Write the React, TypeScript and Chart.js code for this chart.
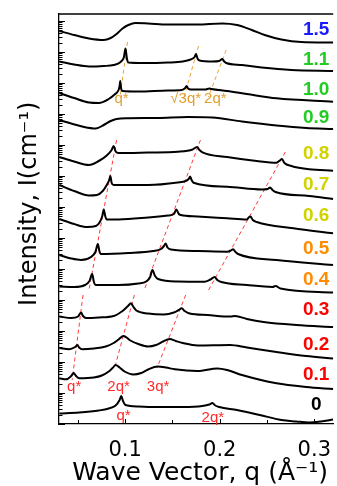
import React, { useEffect, useRef } from 'react';
import { Chart, registerables } from 'chart.js';

Chart.register(...registerables);

type Pt = [number, number];

// Sample labels (right side), colours and their vertical positions (offset units)
const sampleNames = ['0', '0.1', '0.2', '0.3', '0.4', '0.5', '0.6', '0.7', '0.8', '0.9', '1.0', '1.1', '1.5'];
const sampleColors = ['#000000', '#FF0000', '#FF0000', '#FF0000', '#FF8C00', '#FF8C00', '#D2D200', '#D2D200', '#D2D200', '#22CC22', '#22CC22', '#22CC22', '#1A1AFF'];
const sampleLabelY = [1.9, 4.9, 7.9, 11.4, 14.4, 17.5, 20.8, 23.9, 27.0, 30.6, 33.4, 36.4, 39.4];
const sampleLabelQ = 0.302;

// Offset scattering curves: [q (Å^-1), offset log-intensity]
const curve00: Pt[] = [[0.0304, 1.05], [0.0513, 1.15], [0.0721, 1.35], [0.0826, 1.55], [0.0899, 1.85], [0.0941, 2.4], [0.0958, 2.8], [0.0977, 2.3], [0.1003, 1.9], [0.1139, 1.75], [0.1348, 1.7], [0.1609, 1.7], [0.1817, 1.8], [0.189, 1.95], [0.1922, 2.1], [0.1953, 1.85], [0.1995, 1.7], [0.2183, 1.4], [0.2423, 0.9], [0.2652, 0.4], [0.2809, 0.25], [0.2945, 0.15], [0.307, 0.25], [0.32, 0.45]];
const curve01: Pt[] = [[0.0304, 4.57], [0.0377, 4.47], [0.0429, 4.8], [0.0455, 5.1], [0.0481, 4.8], [0.0513, 4.57], [0.0669, 4.65], [0.0753, 4.85], [0.0826, 5.25], [0.0867, 5.6], [0.0899, 5.9], [0.0941, 5.65], [0.0993, 5.25], [0.1087, 4.95], [0.117, 5.1], [0.1243, 5.45], [0.1342, 5.75], [0.1431, 5.65], [0.1525, 5.47], [0.1765, 5.3], [0.1974, 5.55], [0.2078, 5.4], [0.2235, 4.9], [0.26, 4.07], [0.2913, 3.7], [0.32, 3.5]];
const curve02: Pt[] = [[0.0304, 7.6], [0.0408, 7.47], [0.0471, 7.7], [0.0495, 7.9], [0.0513, 7.65], [0.0547, 7.47], [0.0669, 7.55], [0.0794, 7.75], [0.0878, 8.1], [0.093, 8.45], [0.0982, 8.8], [0.1014, 8.65], [0.1055, 8.35], [0.1139, 8.0], [0.1243, 7.75], [0.1327, 7.9], [0.14, 8.25], [0.147, 8.5], [0.1535, 8.3], [0.1609, 8.1], [0.1765, 7.85], [0.211, 7.9], [0.2287, 7.65], [0.26, 7.2], [0.2913, 6.8], [0.32, 6.55]];
const curve03: Pt[] = [[0.0304, 10.75], [0.0429, 10.6], [0.0502, 10.75], [0.0533, 11.15], [0.0554, 10.8], [0.0586, 10.6], [0.0721, 10.65], [0.0878, 10.8], [0.0972, 11.3], [0.1024, 11.75], [0.1063, 12.07], [0.1087, 11.7], [0.1118, 11.35], [0.1243, 11.05], [0.141, 10.95], [0.1515, 11.15], [0.1567, 11.4], [0.1598, 11.57], [0.1629, 11.3], [0.1682, 11.05], [0.187, 10.9], [0.211, 10.75], [0.2162, 10.8], [0.2287, 10.5], [0.2464, 10.2], [0.2809, 9.9], [0.32, 9.7]];
const curve04: Pt[] = [[0.0304, 13.75], [0.046, 13.7], [0.0575, 13.9], [0.0622, 14.3], [0.0651, 15.0], [0.0669, 14.2], [0.069, 13.9], [0.093, 13.9], [0.1139, 14.05], [0.1222, 14.25], [0.1264, 14.7], [0.1288, 15.4], [0.1316, 14.8], [0.1348, 14.5], [0.1556, 14.25], [0.1838, 14.23], [0.1901, 14.45], [0.1946, 14.7], [0.1974, 14.4], [0.2016, 14.2], [0.2287, 13.9], [0.2558, 13.7], [0.259, 13.8], [0.2642, 13.55], [0.32, 13.15]];
const curve05: Pt[] = [[0.0304, 16.9], [0.0429, 16.55], [0.0533, 16.4], [0.0638, 16.7], [0.0685, 17.2], [0.0711, 18.0], [0.0727, 17.3], [0.0742, 17.0], [0.1034, 17.1], [0.1295, 17.3], [0.1379, 17.5], [0.141, 17.8], [0.1428, 18.05], [0.1447, 17.65], [0.1483, 17.45], [0.1765, 17.3], [0.2078, 17.23], [0.212, 17.37], [0.2141, 17.47], [0.2167, 17.2], [0.2193, 17.0], [0.26, 16.4], [0.32, 15.9]];
const curve06: Pt[] = [[0.0304, 20.5], [0.046, 20.0], [0.0596, 19.7], [0.069, 19.8], [0.0732, 20.2], [0.0758, 20.8], [0.0773, 21.45], [0.0789, 20.8], [0.0805, 20.45], [0.093, 20.45], [0.1243, 20.65], [0.1452, 20.85], [0.1515, 21.0], [0.1541, 21.45], [0.1567, 21.0], [0.1588, 20.9], [0.1765, 20.75], [0.2078, 20.57], [0.2287, 20.45], [0.2311, 20.7], [0.2324, 20.75], [0.235, 20.4], [0.2391, 20.2], [0.2778, 19.57], [0.32, 19.07]];
const curve07: Pt[] = [[0.0304, 23.9], [0.046, 23.3], [0.0617, 22.85], [0.07, 22.9], [0.0763, 23.3], [0.0805, 23.9], [0.0831, 24.4], [0.0843, 24.8], [0.0857, 24.1], [0.0878, 23.9], [0.1243, 23.9], [0.1556, 24.15], [0.164, 24.3], [0.1671, 24.5], [0.1687, 24.75], [0.1702, 24.4], [0.1723, 24.13], [0.2078, 23.73], [0.2444, 23.45], [0.2506, 23.5], [0.2532, 23.65], [0.2558, 23.4], [0.259, 23.2], [0.2945, 22.8], [0.32, 22.5]];
const curve08: Pt[] = [[0.0304, 26.7], [0.046, 26.25], [0.0617, 25.9], [0.0721, 26.3], [0.0805, 26.85], [0.0857, 27.4], [0.0878, 27.8], [0.0899, 27.25], [0.093, 27.1], [0.1243, 27.15], [0.1556, 27.23], [0.1713, 27.45], [0.176, 27.7], [0.1786, 27.4], [0.1817, 27.17], [0.2078, 26.7], [0.2391, 26.3], [0.26, 26.13], [0.2642, 26.4], [0.2658, 26.5], [0.2684, 26.1], [0.2757, 25.8], [0.2945, 25.47], [0.32, 25.33]];
const curve09: Pt[] = [[0.0304, 30.4], [0.0429, 30.05], [0.0565, 29.7], [0.069, 29.55], [0.0773, 29.9], [0.0847, 30.3], [0.0909, 30.5], [0.1034, 30.57], [0.1348, 30.6], [0.1661, 30.7], [0.1922, 30.65], [0.2235, 30.25], [0.26, 29.85], [0.2913, 29.6], [0.32, 29.5]];
const curve10: Pt[] = [[0.0304, 33.1], [0.046, 32.6], [0.0617, 32.15], [0.0721, 32.1], [0.0826, 32.5], [0.0888, 32.95], [0.093, 33.4], [0.0941, 33.8], [0.0948, 34.3], [0.0956, 33.6], [0.0972, 33.3], [0.1139, 33.25], [0.1452, 33.35], [0.1598, 33.4], [0.1635, 33.6], [0.165, 33.8], [0.1666, 33.55], [0.1692, 33.45], [0.1849, 33.45], [0.189, 33.55], [0.1911, 33.5], [0.2078, 33.3], [0.2287, 33.0], [0.26, 32.57], [0.32, 32.23]];
const curve11: Pt[] = [[0.0304, 36.25], [0.046, 35.95], [0.0617, 35.75], [0.0773, 35.8], [0.0878, 35.9], [0.0951, 36.2], [0.0987, 36.7], [0.1003, 37.55], [0.1019, 36.5], [0.1034, 36.15], [0.1191, 36.1], [0.1452, 36.15], [0.1609, 36.25], [0.1692, 36.45], [0.1734, 36.7], [0.1749, 37.0], [0.1765, 36.55], [0.1786, 36.35], [0.1922, 36.25], [0.1995, 36.3], [0.2026, 36.5], [0.2047, 36.25], [0.2068, 36.1], [0.2235, 35.9], [0.2444, 35.65], [0.2757, 35.4], [0.32, 35.3]];
const curve15: Pt[] = [[0.0304, 39.3], [0.046, 38.9], [0.0617, 38.55], [0.0773, 38.4], [0.0847, 38.6], [0.0909, 39.0], [0.0972, 39.55], [0.1034, 39.9], [0.1108, 40.1], [0.1243, 40.05], [0.1452, 39.95], [0.1765, 39.95], [0.2026, 40.05], [0.2183, 39.9], [0.2339, 39.4], [0.2475, 38.9], [0.2652, 38.45], [0.2861, 38.2], [0.32, 38.15]];

const curves: Pt[][] = [curve00, curve01, curve02, curve03, curve04, curve05, curve06, curve07, curve08, curve09, curve10, curve11, curve15];

// Dashed guide lines through peak positions
const orangeGuides: Pt[][] = [
  [[0.1024, 38.2], [0.0946, 32.7]],
  [[0.1776, 37.8], [0.1619, 32.6]],
  [[0.2068, 37.4], [0.188, 32.7]],
];
const redGuides: Pt[][] = [
  [[0.0909, 28.4], [0.0617, 13.4]],
  [[0.1796, 28.4], [0.1201, 13.4]],
  [[0.2694, 27.2], [0.187, 13.2]],
  [[0.0554, 12.9], [0.0439, 4.4]],
  [[0.1097, 12.9], [0.0888, 5.6]],
  [[0.164, 12.9], [0.1337, 5.6]],
];

// Peak annotations
const noteTexts = ['q*', '√3q*', '2q*', 'q*', '2q*', '3q*', 'q*', '2q*'];
const noteQ = [0.0961, 0.164, 0.1953, 0.046, 0.093, 0.1348, 0.0982, 0.1927];
const noteY = [32.5, 32.5, 32.5, 3.7, 3.7, 3.7, 0.8, 0.6];
const noteColors = ['#E0A030', '#E0A030', '#E0A030', '#FF2A2A', '#FF2A2A', '#FF2A2A', '#FF2A2A', '#FF2A2A'];

// Axes
const xTickValues = [0.1, 0.2, 0.3];
const xMinorTicks = [0.05, 0.15, 0.25];
const yDecadeStarts = [0, 3.1, 6.2, 9.3, 12.4, 15.5, 18.6, 21.7, 24.8, 27.9, 31.0, 34.1, 37.2, 40.3];
const yDecadeSize = 3.1;
const yMultipliers = [1, 2, 3, 4, 5, 6, 7, 8, 9];

const decorPlugin = {
  id: 'decor',
  afterDatasetsDraw(chart: any) {
    const { ctx, chartArea, scales } = chart;
    const xs = scales.x;
    const ys = scales.y;
    ctx.save();
    ctx.strokeStyle = '#000';
    ctx.lineWidth = 1.3;
    ctx.beginPath();
    ctx.moveTo(chartArea.left, chartArea.top);
    ctx.lineTo(chartArea.right, chartArea.top);
    ctx.stroke();

    ctx.lineWidth = 1;
    ctx.beginPath();
    for (const v of xTickValues) {
      const px = Math.round(xs.getPixelForValue(v)) + 0.5;
      ctx.moveTo(px, chartArea.bottom);
      ctx.lineTo(px, chartArea.bottom - 5);
    }
    for (const v of xMinorTicks) {
      const px = Math.round(xs.getPixelForValue(v)) + 0.5;
      ctx.moveTo(px, chartArea.bottom);
      ctx.lineTo(px, chartArea.bottom - 4);
    }
    for (const d of yDecadeStarts) {
      for (const m of yMultipliers) {
        const v = d + yDecadeSize * Math.log10(m);
        if (v > ys.max) continue;
        const py = Math.round(ys.getPixelForValue(v)) + 0.5;
        const len = m === 1 ? 6 : 3.5;
        ctx.moveTo(chartArea.left, py);
        ctx.lineTo(chartArea.left + len, py);
      }
    }
    ctx.stroke();

    ctx.textAlign = 'center';
    ctx.textBaseline = 'middle';
    ctx.font = '15px "Liberation Sans"';
    noteTexts.forEach((t, i) => {
      ctx.fillStyle = noteColors[i];
      ctx.fillText(t, xs.getPixelForValue(noteQ[i]), ys.getPixelForValue(noteY[i]));
    });

    ctx.font = 'bold 19px "Liberation Sans"';
    sampleNames.forEach((t, i) => {
      ctx.fillStyle = sampleColors[i];
      ctx.fillText(t, xs.getPixelForValue(sampleLabelQ), ys.getPixelForValue(sampleLabelY[i]));
    });
    ctx.restore();
  },
};

export default function App() {
  const ref = useRef<HTMLCanvasElement | null>(null);

  useEffect(() => {
    if (!ref.current) return;
    const toXY = (pts: Pt[]) => pts.map(([x, y]) => ({ x, y }));
    const datasets: any[] = [];
    curves.forEach((c, i) => {
      datasets.push({
        label: sampleNames[i],
        data: toXY(c),
        borderColor: '#000000',
        borderWidth: 2,
        pointRadius: 0,
        cubicInterpolationMode: 'monotone',
        fill: false,
      });
    });
    orangeGuides.forEach((g) => {
      datasets.push({
        data: toXY(g),
        borderColor: '#E8A33A',
        borderWidth: 1,
        borderDash: [4, 3],
        pointRadius: 0,
        fill: false,
      });
    });
    redGuides.forEach((g) => {
      datasets.push({
        data: toXY(g),
        borderColor: '#FF3B3B',
        borderWidth: 1,
        borderDash: [4, 3],
        pointRadius: 0,
        fill: false,
      });
    });

    const chart = new Chart(ref.current, {
      type: 'line',
      data: { datasets },
      options: {
        animation: false,
        responsive: false,
        devicePixelRatio: 1,
        layout: { padding: { left: 0, right: 0, top: 14, bottom: 0 } },
        plugins: { legend: { display: false }, tooltip: { enabled: false } },
        scales: {
          x: {
            type: 'linear',
            min: 0.03,
            max: 0.32,
            afterBuildTicks: (s: any) => {
              s.ticks = xTickValues.map((v) => ({ value: v }));
            },
            afterFit: (s: any) => {
              s.height = 62;
            },
            grid: { display: false },
            border: { display: true, color: '#000', width: 1.3 },
            ticks: {
              color: '#000',
              padding: 6,
              maxRotation: 0,
              autoSkip: false,
              font: { family: '"DejaVu Sans"', size: 21 },
              callback: (v: any) => Number(v).toFixed(1),
            },
            title: {
              display: true,
              text: ' Wave Vector, q (Å⁻¹)',
              color: '#000',
              font: { family: '"DejaVu Sans"', size: 25, lineHeight: 1 },
              padding: { top: 0, bottom: 0 },
            },
          },
          y: {
            type: 'linear',
            min: 0,
            max: 41,
            afterFit: (s: any) => {
              s.width = 59;
            },
            grid: { display: false },
            border: { display: true, color: '#000', width: 1.3 },
            ticks: { display: false },
            title: {
              display: true,
              text: '    Intensity, I(cm⁻¹)',
              color: '#000',
              font: { family: '"DejaVu Sans"', size: 24, lineHeight: 1.2 },
              padding: { top: 15, bottom: 0 },
            },
          },
        },
      },
      plugins: [decorPlugin],
    });
    return () => chart.destroy();
  }, []);

  return (
    <div style={{ position: 'absolute', left: 0, top: 0, width: 337, height: 486, background: '#fff' }}>
      <canvas ref={ref} width={337} height={486} style={{ display: 'block' }} />
    </div>
  );
}
